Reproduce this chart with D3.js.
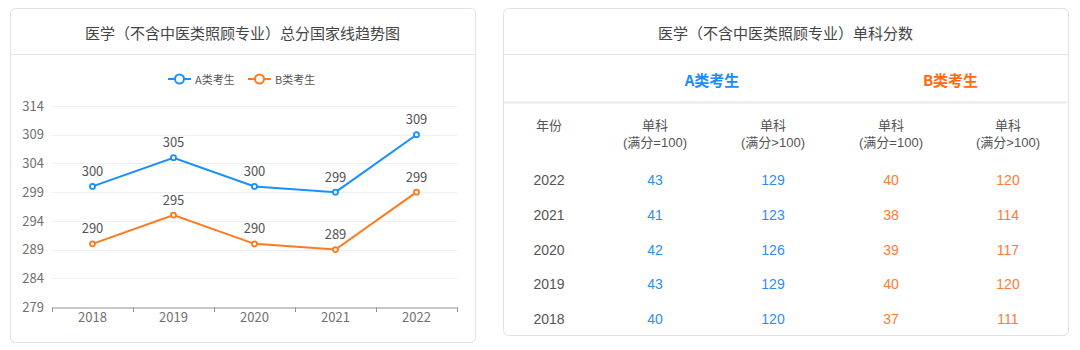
<!DOCTYPE html>
<html>
<head>
<meta charset="utf-8">
<script src="https://cdn.jsdelivr.net/npm/d3@7"></script>
<style>
  html, body { margin: 0; padding: 0; background: #fff; }
  svg { display: block; }
  text { font-family: "Noto Sans CJK SC", "Noto Sans", sans-serif; }
  .num { font-family: "Liberation Sans", Arial, "Noto Sans CJK SC", sans-serif; }
</style>
</head>
<body>
<svg id="chart" width="1080" height="350"></svg>
<script>
// data
var years = ['2018', '2019', '2020', '2021', '2022'];
var scoreA = [300, 305, 300, 299, 309];
var scoreB = [290, 295, 290, 289, 299];
var yTicks = [279, 284, 289, 294, 299, 304, 309, 314];
var seriesNames = ['A类考生', 'B类考生'];

var tableYears = ['2022', '2021', '2020', '2019', '2018'];
var singleA100 = [43, 41, 42, 43, 40];
var singleAOver = [129, 123, 126, 129, 120];
var singleB100 = [40, 38, 39, 40, 37];
var singleBOver = [120, 114, 117, 120, 111];
var colHeads = ['(满分=100)', '(满分>100)', '(满分=100)', '(满分>100)'];

var blue = '#1890ff', orange = '#ff7a1c';
var tBlue = '#2f8cf6', tOrange = '#ff7b35';

var svg = d3.select('#chart');

// panels
function panel(x, y, w, h, title) {
  var g = svg.append('g');
  g.append('rect')
    .attr('x', x + 0.5).attr('y', y + 0.5)
    .attr('width', w).attr('height', h)
    .attr('rx', 5)
    .attr('fill', '#fff')
    .attr('stroke', '#e2e2e2');
  g.append('line')
    .attr('x1', x + 1).attr('x2', x + w)
    .attr('y1', 54.5).attr('y2', 54.5)
    .attr('stroke', '#e6e6e6');
  g.append('text')
    .attr('x', x + w / 2).attr('y', 32)
    .attr('text-anchor', 'middle').attr('dominant-baseline', 'central')
    .attr('font-size', 15).attr('fill', '#444')
    .text(title);
  return g;
}

panel(10, 8, 465, 334, '医学（不含中医类照顾专业）总分国家线趋势图');
panel(503, 8, 565, 327, '医学（不含中医类照顾专业）单科分数');

// ---- line chart ----
var x = d3.scaleBand().domain(years).range([52, 457]);
var y = d3.scaleLinear().domain([279, 314]).range([307, 106]);

var chart = svg.append('g');

chart.append('g').selectAll('line')
  .data(yTicks.slice(1))
  .join('line')
  .attr('x1', 52).attr('x2', 457)
  .attr('y1', d => Math.round(y(d)) + 0.5).attr('y2', d => Math.round(y(d)) + 0.5)
  .attr('stroke', '#eef0f5');

var yAxis = chart.append('g')
  .attr('transform', 'translate(52,0)')
  .call(d3.axisLeft(y).tickValues(yTicks).tickSize(0).tickPadding(8));
yAxis.select('.domain').remove();
yAxis.selectAll('text').attr('font-size', 13).attr('fill', '#707070')
  .attr('font-family', '"Noto Sans", sans-serif');

var xAxis = chart.append('g')
  .attr('transform', 'translate(0,' + (Math.round(y(279)) + 0.5) + ')')
  .call(d3.axisBottom(x).tickSize(0).tickPadding(5));
xAxis.select('.domain').attr('stroke', '#8e9197');
xAxis.selectAll('text').attr('font-size', 13).attr('fill', '#707070')
  .attr('font-family', '"Noto Sans", sans-serif');
// boundary ticks
chart.append('g').selectAll('line')
  .data(years.concat(['end']))
  .join('line')
  .attr('x1', (d, i) => i < years.length ? x(d) + 0.5 : 457.5)
  .attr('x2', (d, i) => i < years.length ? x(d) + 0.5 : 457.5)
  .attr('y1', Math.round(y(279)) + 0.5).attr('y2', Math.round(y(279)) + 5)
  .attr('stroke', '#8e9197');

var series = [
  { name: seriesNames[0], values: scoreA, color: blue },
  { name: seriesNames[1], values: scoreB, color: orange }
];

var line = d3.line()
  .x((d, i) => x(years[i]) + x.bandwidth() / 2)
  .y(d => y(d));

series.forEach(s => {
  var g = chart.append('g');
  g.append('path')
    .attr('d', line(s.values))
    .attr('fill', 'none')
    .attr('stroke', s.color)
    .attr('stroke-width', 2);
  g.selectAll('circle')
    .data(s.values)
    .join('circle')
    .attr('cx', (d, i) => x(years[i]) + x.bandwidth() / 2)
    .attr('cy', d => y(d))
    .attr('r', 2.5)
    .attr('fill', '#fff')
    .attr('stroke', s.color)
    .attr('stroke-width', 1.8);
  g.selectAll('text')
    .data(s.values)
    .join('text')
    .attr('x', (d, i) => x(years[i]) + x.bandwidth() / 2)
    .attr('y', d => y(d) - 16)
    .attr('text-anchor', 'middle')
    .attr('dominant-baseline', 'central')
    .attr('font-size', 13).attr('fill', '#555')
    .attr('font-family', '"Noto Sans", sans-serif')
    .text(d => d);
});

// legend
var legend = chart.append('g').attr('transform', 'translate(168,79)');
var lg = legend.selectAll('g')
  .data(series)
  .join('g')
  .attr('transform', (d, i) => 'translate(' + (i * 80) + ',0)');
lg.append('line')
  .attr('x1', 0).attr('x2', 23)
  .attr('stroke', d => d.color).attr('stroke-width', 2);
lg.append('circle')
  .attr('cx', 11.5).attr('r', 4.5)
  .attr('fill', '#fff')
  .attr('stroke', d => d.color).attr('stroke-width', 2);
lg.append('text')
  .attr('x', 27)
  .attr('dominant-baseline', 'central')
  .attr('font-size', 11).attr('fill', '#555')
  .text(d => d.name);

// ---- table ----
var table = svg.append('g');
var colX = { year: 549, a100: 655, aOver: 773, b100: 891, bOver: 1008 };
var rows = d3.scalePoint().domain(tableYears).range([180, 319]);

table.append('line')
  .attr('x1', 504).attr('x2', 1067)
  .attr('y1', 102.5).attr('y2', 102.5)
  .attr('stroke', '#ececec').attr('stroke-width', 2);

table.append('text')
  .attr('x', 712).attr('y', 79)
  .attr('text-anchor', 'middle').attr('dominant-baseline', 'central')
  .attr('font-size', 15).attr('font-weight', 'bold').attr('fill', '#1a8cff')
  .text(seriesNames[0]);
table.append('text')
  .attr('x', (colX.b100 + colX.bOver) / 2 + 1).attr('y', 79)
  .attr('text-anchor', 'middle').attr('dominant-baseline', 'central')
  .attr('font-size', 15).attr('font-weight', 'bold').attr('fill', '#ff6a13')
  .text(seriesNames[1]);

table.append('text')
  .attr('x', colX.year).attr('y', 124)
  .attr('text-anchor', 'middle').attr('dominant-baseline', 'central')
  .attr('font-size', 13).attr('fill', '#555')
  .text('年份');

var heads = ['a100', 'aOver', 'b100', 'bOver'];
heads.forEach((k, i) => {
  table.append('text')
    .attr('x', colX[k]).attr('y', 124)
    .attr('text-anchor', 'middle').attr('dominant-baseline', 'central')
    .attr('font-size', 13).attr('fill', '#555')
    .text('单科');
  table.append('text')
    .attr('class', 'num')
    .attr('x', colX[k]).attr('y', 142)
    .attr('text-anchor', 'middle').attr('dominant-baseline', 'central')
    .attr('font-size', 13).attr('fill', '#555')
    .text(colHeads[i]);
});

var columns = [
  { key: 'year', values: tableYears, color: '#555' },
  { key: 'a100', values: singleA100, color: tBlue },
  { key: 'aOver', values: singleAOver, color: tBlue },
  { key: 'b100', values: singleB100, color: tOrange },
  { key: 'bOver', values: singleBOver, color: tOrange }
];

columns.forEach(c => {
  table.append('g').selectAll('text')
    .data(c.values)
    .join('text')
    .attr('class', 'num')
    .attr('x', colX[c.key])
    .attr('y', (d, i) => rows(tableYears[i]))
    .attr('text-anchor', 'middle').attr('dominant-baseline', 'central')
    .attr('font-size', 14).attr('fill', c.color)
    .text(d => d);
});
</script>
</body>
</html>
